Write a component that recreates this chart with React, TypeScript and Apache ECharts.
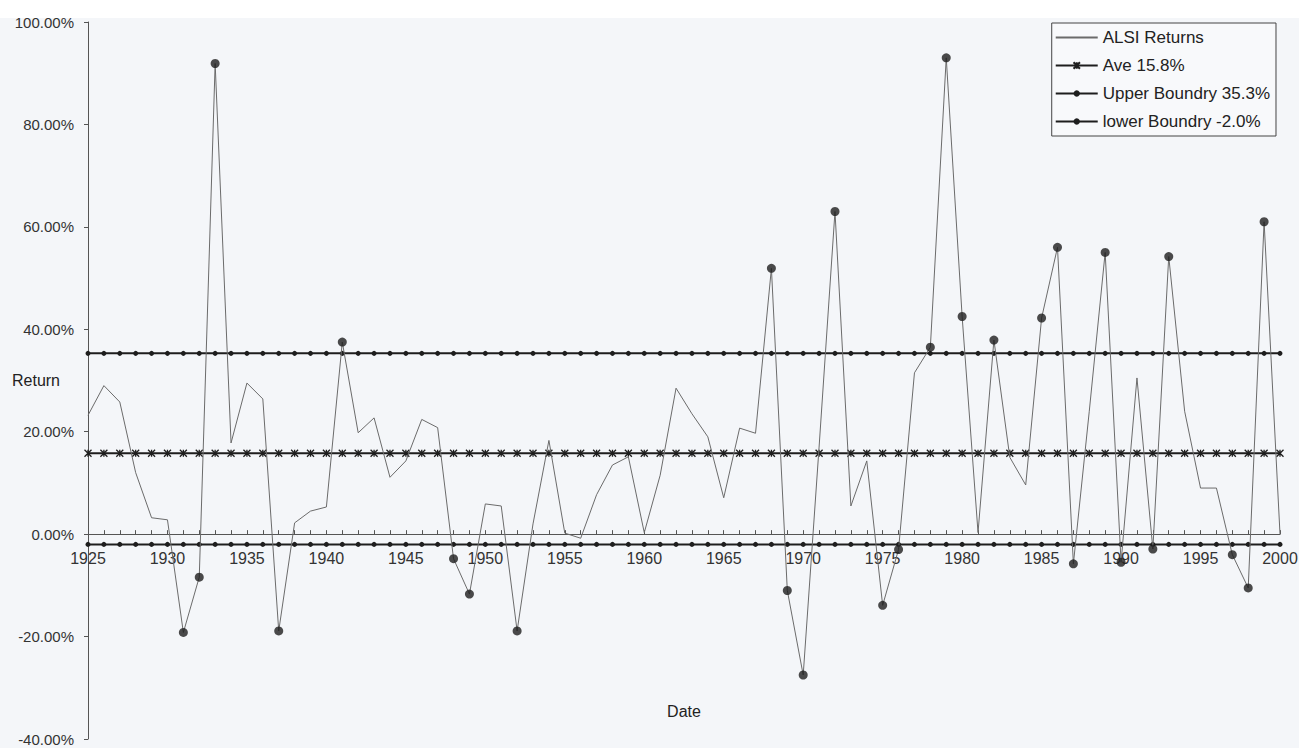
import React, { useEffect, useRef } from 'react';
import * as echarts from 'echarts';

const YEARS = [
  '1925', '1926', '1927', '1928', '1929', '1930', '1931', '1932', '1933', '1934',
  '1935', '1936', '1937', '1938', '1939', '1940', '1941', '1942', '1943', '1944',
  '1945', '1946', '1947', '1948', '1949', '1950', '1951', '1952', '1953', '1954',
  '1955', '1956', '1957', '1958', '1959', '1960', '1961', '1962', '1963', '1964',
  '1965', '1966', '1967', '1968', '1969', '1970', '1971', '1972', '1973', '1974',
  '1975', '1976', '1977', '1978', '1979', '1980', '1981', '1982', '1983', '1984',
  '1985', '1986', '1987', '1988', '1989', '1990', '1991', '1992', '1993', '1994',
  '1995', '1996', '1997', '1998', '1999', '2000',
];

// ALSI annual returns (%)
const RETURNS = [
  23.2, 29.0, 25.8, 12.0, 3.2, 2.8, -19.2, -8.4, 91.9, 17.8,
  29.5, 26.4, -18.9, 2.2, 4.5, 5.3, 37.5, 19.8, 22.7, 11.1,
  14.3, 22.4, 20.8, -4.8, -11.7, 5.9, 5.5, -18.9, 2.0, 18.3,
  0.2, -0.8, 7.7, 13.5, 15.1, 0.3, 11.5, 28.5, 23.5, 19.0,
  7.1, 20.7, 19.7, 51.9, -11.0, -27.5, 17.0, 63.0, 5.5, 14.3,
  -13.9, -3.0, 31.5, 36.5, 93.0, 42.5, 0.3, 37.9, 15.0, 9.6,
  42.2, 56.0, -5.8, 24.0, 55.0, -5.5, 30.5, -2.9, 54.2, 24.0,
  9.0, 9.0, -4.0, -10.5, 61.0, 0.0,
];

const AVE = 15.8;
const UPPER = 35.3;
const LOWER = -2.0;

const Y_MIN = -40;
const Y_MAX = 100;
const Y_INTERVAL = 20;

const SERIES_NAMES = ['ALSI Returns', 'Ave 15.8%', 'Upper Boundry 35.3%', 'lower Boundry -2.0%'];

const FONT = '"Liberation Sans", Arial, sans-serif';
const INK = '#1e1e1e';

const GRID_TOP = 22;
const GRID_BOTTOM = 9;
const CHART_H = 748;

export default function App() {
  const ref = useRef<HTMLDivElement>(null);

  useEffect(() => {
    if (!ref.current) return;
    const chart = echarts.init(ref.current, null, { renderer: 'svg' });

    const outliers = RETURNS.map((v, i) =>
      v > UPPER || v < LOWER ? [YEARS[i], v] : null
    ).filter((d) => d !== null);

    const star = 'path://M0,0L10,10M10,0L0,10M5,0L5,10';

    // distance of the value-axis zero from the bottom of the grid, so the
    // category axis sits on 0 (as in the Excel original)
    const gridH = CHART_H - GRID_TOP - GRID_BOTTOM;
    const zeroFromBottom = (gridH * (0 - Y_MIN)) / (Y_MAX - Y_MIN);

    const option = {
      animation: false,
      backgroundColor: '#f4f6f9',
      textStyle: { fontFamily: FONT },
      graphic: [
        {
          type: 'rect',
          z: -100,
          silent: true,
          shape: { x: 0, y: 0, width: 1299, height: 18 },
          style: { fill: '#ffffff' },
        },
      ],
      grid: {
        left: 88,
        right: 19,
        top: GRID_TOP,
        bottom: GRID_BOTTOM,
        containLabel: false,
        outerBoundsMode: 'none',
      },
      legend: {
        data: [
          { name: SERIES_NAMES[0], itemStyle: { opacity: 0 } },
          { name: SERIES_NAMES[1] },
          { name: SERIES_NAMES[2] },
          { name: SERIES_NAMES[3] },
        ],
        orient: 'vertical',
        right: 23,
        top: 23,
        itemWidth: 42,
        itemHeight: 8,
        itemGap: 11,
        padding: [6, 6, 6, 3],
        borderColor: '#444',
        borderWidth: 1,
        backgroundColor: '#f8f9fb',
        selectedMode: false,
        textStyle: { fontSize: 17, color: '#222', fontFamily: FONT },
      },
      xAxis: {
        type: 'category',
        data: YEARS,
        boundaryGap: false,
        position: 'bottom',
        offset: -zeroFromBottom,
        axisLine: { onZero: false, lineStyle: { color: '#555', width: 1 } },
        axisTick: { show: true, inside: true, length: 4, interval: 0, lineStyle: { color: '#555' } },
        axisLabel: { interval: 4, fontSize: 16, color: '#333', margin: 16, fontFamily: FONT },
        splitLine: { show: false },
        name: 'Date',
        nameLocation: 'middle',
        nameGap: 177,
        nameMoveOverlap: false,
        nameTextStyle: { fontSize: 16, color: '#222', verticalAlign: 'middle', fontFamily: FONT },
      },
      yAxis: {
        type: 'value',
        min: Y_MIN,
        max: Y_MAX,
        interval: Y_INTERVAL,
        axisLine: { show: true, onZero: false, lineStyle: { color: '#555', width: 1 } },
        axisTick: { show: true, length: 4, lineStyle: { color: '#555' } },
        axisLabel: {
          formatter: (v: number) => v.toFixed(2) + '%',
          fontSize: 15,
          color: '#333',
          margin: 14,
          fontFamily: FONT,
        },
        splitLine: { show: false },
        name: 'Return',
        nameLocation: 'middle',
        nameRotate: 0,
        nameGap: 52,
        nameMoveOverlap: false,
        nameTextStyle: { fontSize: 16, color: '#222', align: 'center', verticalAlign: 'middle', fontFamily: FONT },
      },
      series: [
        {
          name: SERIES_NAMES[0],
          type: 'line',
          data: RETURNS,
          symbol: 'none',
          lineStyle: { color: '#6b6b6b', width: 1 },
          itemStyle: { color: '#6b6b6b' },
          z: 4,
        },
        {
          name: SERIES_NAMES[1],
          type: 'line',
          data: YEARS.map(() => AVE),
          symbol: star,
          symbolSize: 7,
          showAllSymbol: true,
          lineStyle: { color: INK, width: 2 },
          itemStyle: { color: INK, borderColor: INK, borderWidth: 1.3 },
          z: 3,
        },
        {
          name: SERIES_NAMES[2],
          type: 'line',
          data: YEARS.map(() => UPPER),
          symbol: 'circle',
          symbolSize: 5,
          showAllSymbol: true,
          lineStyle: { color: INK, width: 2 },
          itemStyle: { color: INK, borderWidth: 0 },
          z: 3,
        },
        {
          name: SERIES_NAMES[3],
          type: 'line',
          data: YEARS.map(() => LOWER),
          symbol: 'circle',
          symbolSize: 5,
          showAllSymbol: true,
          lineStyle: { color: INK, width: 2 },
          itemStyle: { color: INK, borderWidth: 0 },
          z: 3,
        },
        {
          name: 'Outliers',
          type: 'scatter',
          data: outliers,
          symbol: 'circle',
          symbolSize: 9,
          itemStyle: { color: INK },
          z: 5,
        },
      ],
    };

    chart.setOption(option as any);
    return () => chart.dispose();
  }, []);

  return (
    <div
      ref={ref}
      style={{ position: 'fixed', left: 0, top: 0, width: 1299, height: 748 }}
    />
  );
}
